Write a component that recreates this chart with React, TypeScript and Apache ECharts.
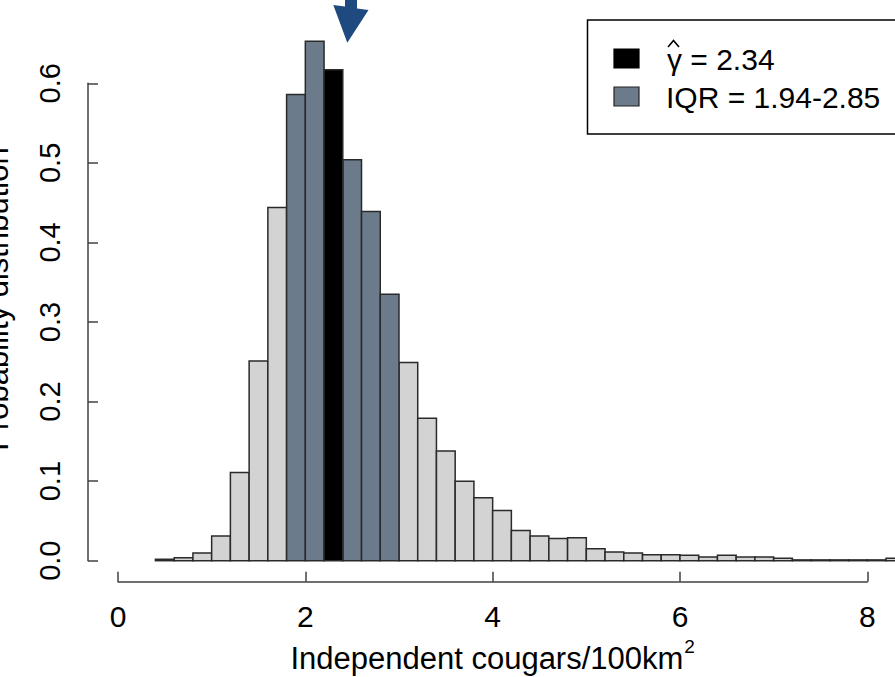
import React, { useEffect, useRef } from "react";
import * as echarts from "echarts";

// Histogram bins (lower edges, width 0.2) and probability density
const binWidth = 0.2;
const binStart = [
  0.4, 0.6, 0.8, 1.0, 1.2, 1.4, 1.6, 1.8, 2.0, 2.2, 2.4, 2.6, 2.8, 3.0, 3.2, 3.4,
  3.6, 3.8, 4.0, 4.2, 4.4, 4.6, 4.8, 5.0, 5.2, 5.4, 5.6, 5.8, 6.0, 6.2, 6.4, 6.6,
  6.8, 7.0, 7.2, 7.4, 7.6, 7.8, 8.0, 8.2,
];
const density = [
  0.0018, 0.0038, 0.0097, 0.031, 0.111, 0.251, 0.444, 0.586, 0.653, 0.617, 0.504,
  0.439, 0.335, 0.249, 0.179, 0.138, 0.1, 0.079, 0.063, 0.038, 0.031, 0.028, 0.029,
  0.015, 0.011, 0.0097, 0.0075, 0.0075, 0.0068, 0.0046, 0.0068, 0.0045, 0.0045,
  0.003, 0.001, 0.001, 0.001, 0.001, 0.001, 0.003,
];
const estimateBin = [2.2, 2.4]; // bin holding gamma-hat
const iqrRange = [1.8, 3.0]; // bins covering the IQR
const estimateLabel = "γ = 2.34";
const iqrLabel = "IQR = 1.94-2.85";
const xTicks = [0, 2, 4, 6, 8];
const yTicks = [0, 0.1, 0.2, 0.3, 0.4, 0.5, 0.6];
const xTitle = "Independent cougars/100km";
const yTitle = "Probability distribution";

const LIGHT = "#d3d3d3";
const IQR_COL = "#6c7b8b";
const EST_COL = "#000000";
const FONT = '"Liberation Sans", Arial, Helvetica, sans-serif';

const eps = 1e-6;
const classify = (s: number) => {
  if (s >= estimateBin[0] - eps && s < estimateBin[1] - eps) return "est";
  if (s >= iqrRange[0] - eps && s < iqrRange[1] - eps) return "iqr";
  return "light";
};

const makeData = (cls: string) =>
  binStart
    .map((s, i) => [s, +(s + binWidth).toFixed(2), density[i]])
    .filter((d) => classify(d[0] as number) === cls);

const makeSeries = (name: string, cls: string, color: string) => ({
  type: "custom",
  name,
  clip: false,
  encode: { x: [0, 1], y: 2 },
  data: makeData(cls),
  renderItem: (params: any, api: any) => {
    const p0 = api.coord([api.value(0), 0]);
    const p1 = api.coord([api.value(1), api.value(2)]);
    return {
      type: "rect",
      shape: { x: p0[0], y: p1[1], width: p1[0] - p0[0], height: p0[1] - p1[1] },
      style: { fill: color, stroke: "#2a2a2a", lineWidth: 1.5 },
    };
  },
});

export default function App() {
  const ref = useRef<HTMLDivElement>(null);
  useEffect(() => {
    if (!ref.current) return;
    const chart = echarts.init(ref.current, undefined, { renderer: "svg" });
    chart.setOption({
      animation: false,
      backgroundColor: "#ffffff",
      textStyle: { fontFamily: FONT },
      grid: {
        left: 118,
        right: 27.7,
        top: 83.3,
        bottom: 116.3,
        containLabel: false,
        outerBoundsMode: "none",
      },
      xAxis: {
        type: "value",
        min: 0,
        max: 8,
        interval: 2,
        offset: 21,
        axisLine: { show: true, onZero: false, lineStyle: { color: "#404040", width: 1.5 } },
        axisTick: { show: true, inside: true, length: 10, lineStyle: { color: "#404040", width: 1.5 }, customValues: xTicks },
        axisLabel: { color: "#000", fontSize: 30, fontFamily: FONT, margin: 20, customValues: xTicks },
        splitLine: { show: false },
        name: xTitle + "{sup|2}",
        nameLocation: "middle",
        nameGap: 54,
        nameTextStyle: {
          color: "#000",
          fontSize: 31,
          fontFamily: FONT,
          rich: {
            sup: { fontSize: 19, fontFamily: FONT, color: "#000", verticalAlign: "top", padding: [0, 0, 24, 1] },
          },
        },
      },
      yAxis: {
        type: "value",
        min: 0,
        max: 0.6,
        interval: 0.1,
        offset: 30,
        axisLine: { show: true, onZero: false, lineStyle: { color: "#404040", width: 1.5 } },
        axisTick: { show: true, inside: true, length: 10, lineStyle: { color: "#404040", width: 1.5 }, customValues: yTicks },
        axisLabel: {
          color: "#000",
          fontSize: 29,
          fontFamily: FONT,
          rotate: 90,
          margin: 24,
          customValues: yTicks,
          formatter: (v: number) => v.toFixed(1),
        },
        splitLine: { show: false },
      },
      series: [
        makeSeries("density", "light", LIGHT),
        makeSeries(iqrLabel, "iqr", IQR_COL),
        makeSeries(estimateLabel, "est", EST_COL),
      ],
      graphic: [
        {
          type: "text",
          x: 13,
          y: 299,
          rotation: Math.PI / 2,
          style: { text: yTitle, fontSize: 31, fontFamily: FONT, fill: "#000", align: "center", verticalAlign: "bottom" },
        },
        {
          type: "polygon",
          shape: {
            points: [
              [345, 0],
              [357, 0],
              [357, 8.5],
              [368.5, 10],
              [347.3, 42.7],
              [333.3, 5],
              [345, 6.5],
            ],
          },
          style: { fill: "#1f4a7f" },
        },
        {
          type: "rect",
          shape: { x: 587.5, y: 20, width: 400, height: 114 },
          style: { fill: "#fff", stroke: "#000", lineWidth: 1.5 },
        },
        {
          type: "rect",
          shape: { x: 614, y: 49, width: 25, height: 19 },
          style: { fill: EST_COL, stroke: "#000", lineWidth: 1.2 },
        },
        {
          type: "rect",
          shape: { x: 614, y: 87, width: 25, height: 19 },
          style: { fill: IQR_COL, stroke: "#222", lineWidth: 1.2 },
        },
        {
          type: "polyline",
          shape: { points: [[668, 47], [673.5, 40.5], [679, 47]] },
          style: { stroke: "#000", lineWidth: 1.6, fill: null },
        },
        {
          type: "text",
          x: 667,
          y: 59,
          style: { text: estimateLabel, fontSize: 30, fontFamily: FONT, fill: "#000", align: "left", verticalAlign: "middle" },
        },
        {
          type: "text",
          x: 666,
          y: 97,
          style: { text: iqrLabel, fontSize: 30, fontFamily: FONT, fill: "#000", align: "left", verticalAlign: "middle" },
        },
      ],
    });
    return () => chart.dispose();
  }, []);
  return <div ref={ref} style={{ position: "absolute", left: 0, top: 0, width: 895, height: 677 }} />;
}
